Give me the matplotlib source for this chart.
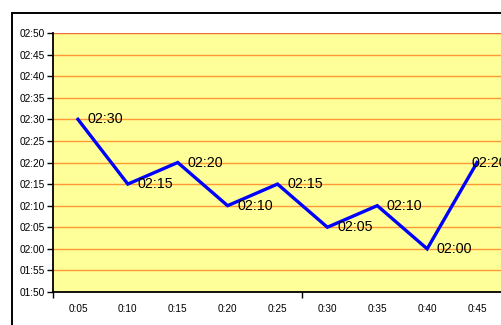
import matplotlib.pyplot as plt
from matplotlib.patches import Rectangle
from matplotlib.ticker import FixedLocator, FuncFormatter

plt.rcParams['font.family'] = ['Liberation Sans', 'DejaVu Sans']

# elapsed time vs. measured duration
categories = ["0:05", "0:10", "0:15", "0:20", "0:25", "0:30", "0:35", "0:40", "0:45"]
durations = ["02:30", "02:15", "02:20", "02:10", "02:15", "02:05", "02:10", "02:00", "02:20"]
y_ticks = ["01:50", "01:55", "02:00", "02:05", "02:10", "02:15", "02:20",
           "02:25", "02:30", "02:35", "02:40", "02:45", "02:50"]


def to_minutes(s):
    h, m = s.split(":")
    return int(h) * 60 + int(m)


def fmt(v, pos=None):
    v = int(round(v))
    return "%02d:%02d" % (v // 60, v % 60)


x = list(range(len(categories)))
y = [to_minutes(d) for d in durations]
yt = [to_minutes(t) for t in y_ticks]

fig = plt.figure(figsize=(5.02, 3.25), dpi=100)
ax = fig.add_axes([53 / 502, 33 / 325, 449 / 502, 259 / 325])
ax.set_facecolor("#FFFF99")

# outer chart border, runs off the right and bottom edges
fig.patches.append(Rectangle((12 / 502, -0.1), 1.2, (325 - 13) / 325 + 0.1,
                             transform=fig.transFigure, fill=False,
                             edgecolor="black", linewidth=1.4))

ax.set_ylim(yt[0], yt[-1])
ax.yaxis.set_major_locator(FixedLocator(yt))
ax.yaxis.set_major_formatter(FuncFormatter(fmt))
ax.grid(axis="y", color="#FF9933", linewidth=1.0)
ax.set_axisbelow(True)

ax.plot(x, y, color="#0000FF", linewidth=2.4, solid_joinstyle="miter", zorder=3)

for i, (xi, yi) in enumerate(zip(x, y)):
    dx = 7 if i < len(x) - 1 else -4
    ax.annotate(durations[i], (xi, yi), xytext=(dx, 0), textcoords="offset points",
                ha="left", va="center", fontsize=10.3, color="black", zorder=4)

ax.set_xlim(-0.5, len(categories) - 0.5)
ax.xaxis.set_major_locator(FixedLocator([-0.5, 4.5]))
ax.xaxis.set_major_formatter(FuncFormatter(lambda v, p: ""))
ax.xaxis.set_minor_locator(FixedLocator(x))
ax.set_xticklabels(categories, minor=True)
ax.tick_params(axis="x", which="major", length=4, width=1, direction="out")
ax.tick_params(axis="x", which="minor", length=0, pad=9, labelsize=7.2)
ax.tick_params(axis="y", length=4, width=1, direction="out", labelsize=7.3, pad=2)

for s in ["top", "right"]:
    ax.spines[s].set_visible(False)
ax.spines["left"].set_linewidth(1.3)
ax.spines["bottom"].set_linewidth(1.3)
ax.axhline(yt[-1], color="#E8743B", linewidth=1.6, zorder=2)

fig.savefig("out.png", dpi=100)
